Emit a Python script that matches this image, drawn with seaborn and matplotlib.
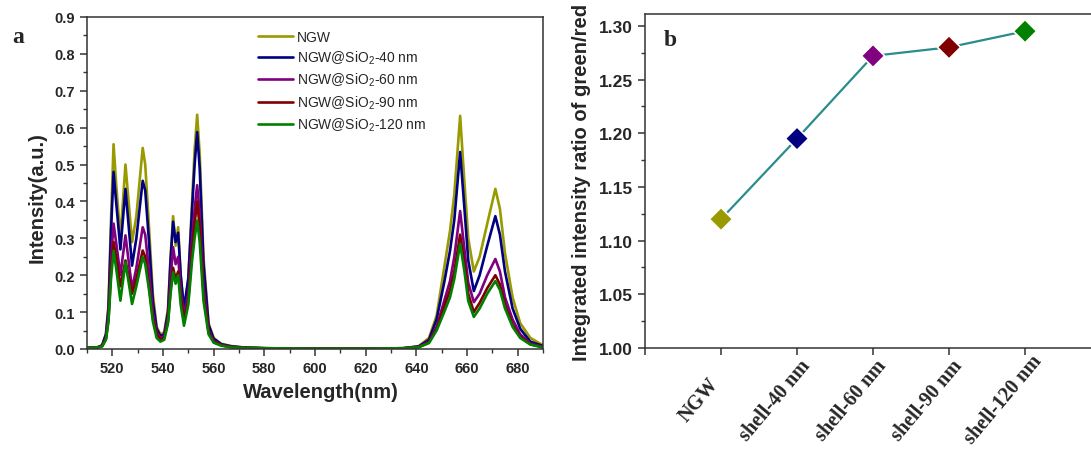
import numpy as np
import pandas as pd
import matplotlib
matplotlib.use("Agg")
import matplotlib.pyplot as plt
import seaborn as sns
from matplotlib.ticker import MultipleLocator, FormatStrFormatter

# ---------------- data ----------------
wavelength = [510, 514, 516, 517.5, 518.5, 519.5, 520.5, 521.5, 523.2, 525.2,
              527.8, 529.5, 532, 533, 534.5, 536, 537.5, 539, 540.5, 542,
              543, 544, 545, 546, 547, 548.3, 550, 551.5, 552.5, 553.5,
              554.5, 556, 558, 560, 563, 567, 572, 580, 600, 620,
              635, 641, 645, 648, 651, 653.3, 655, 657.3, 659, 660.5,
              662.7, 665, 668, 671.2, 673, 675, 678, 681, 685, 690]

ngw = [0.003, 0.004, 0.010, 0.040, 0.120, 0.350, 0.555, 0.450, 0.300, 0.500,
       0.290, 0.360, 0.545, 0.500, 0.330, 0.150, 0.060, 0.040, 0.045, 0.110,
       0.250, 0.360, 0.280, 0.330, 0.200, 0.100, 0.190, 0.400, 0.540, 0.635,
       0.530, 0.250, 0.070, 0.030, 0.014, 0.008, 0.004, 0.002, 0.001, 0.001,
       0.002, 0.008, 0.030, 0.090, 0.220, 0.320, 0.420, 0.632, 0.450, 0.300,
       0.210, 0.250, 0.340, 0.434, 0.380, 0.260, 0.140, 0.070, 0.030, 0.010]

shell40 = [0.003, 0.004, 0.010, 0.040, 0.110, 0.320, 0.480, 0.400, 0.270, 0.434,
           0.226, 0.300, 0.456, 0.430, 0.290, 0.130, 0.055, 0.035, 0.040, 0.100,
           0.240, 0.345, 0.290, 0.315, 0.200, 0.110, 0.190, 0.380, 0.500, 0.588,
           0.490, 0.230, 0.065, 0.028, 0.013, 0.007, 0.004, 0.002, 0.001, 0.001,
           0.002, 0.007, 0.025, 0.080, 0.180, 0.266, 0.350, 0.534, 0.380, 0.240,
           0.157, 0.200, 0.280, 0.360, 0.310, 0.210, 0.110, 0.055, 0.020, 0.008]

shell60 = [0.003, 0.004, 0.008, 0.030, 0.090, 0.240, 0.340, 0.290, 0.200, 0.308,
           0.163, 0.220, 0.330, 0.310, 0.210, 0.100, 0.045, 0.030, 0.035, 0.085,
           0.190, 0.276, 0.230, 0.250, 0.160, 0.090, 0.150, 0.300, 0.380, 0.444,
           0.370, 0.170, 0.050, 0.022, 0.011, 0.006, 0.003, 0.002, 0.001, 0.001,
           0.002, 0.006, 0.020, 0.060, 0.130, 0.184, 0.250, 0.374, 0.270, 0.180,
           0.127, 0.150, 0.200, 0.244, 0.210, 0.140, 0.080, 0.040, 0.015, 0.006]

shell90 = [0.003, 0.004, 0.008, 0.028, 0.080, 0.210, 0.290, 0.250, 0.170, 0.240,
           0.150, 0.190, 0.267, 0.250, 0.170, 0.085, 0.040, 0.026, 0.030, 0.075,
           0.160, 0.220, 0.190, 0.210, 0.140, 0.078, 0.130, 0.270, 0.340, 0.400,
           0.330, 0.150, 0.045, 0.020, 0.010, 0.005, 0.003, 0.002, 0.001, 0.001,
           0.002, 0.005, 0.018, 0.055, 0.115, 0.160, 0.210, 0.310, 0.230, 0.150,
           0.100, 0.125, 0.165, 0.200, 0.175, 0.120, 0.065, 0.033, 0.013, 0.005]

shell120 = [0.003, 0.004, 0.007, 0.025, 0.075, 0.190, 0.266, 0.220, 0.131, 0.235,
            0.122, 0.170, 0.249, 0.230, 0.160, 0.075, 0.030, 0.020, 0.025, 0.070,
            0.150, 0.208, 0.177, 0.200, 0.120, 0.063, 0.120, 0.240, 0.300, 0.348,
            0.290, 0.130, 0.040, 0.017, 0.009, 0.004, 0.003, 0.002, 0.001, 0.001,
            0.002, 0.005, 0.016, 0.050, 0.100, 0.140, 0.190, 0.285, 0.210, 0.130,
            0.087, 0.110, 0.150, 0.184, 0.160, 0.110, 0.060, 0.030, 0.012, 0.004]

series_labels = ["NGW", r"NGW@SiO$_2$-40 nm", r"NGW@SiO$_2$-60 nm",
                 r"NGW@SiO$_2$-90 nm", r"NGW@SiO$_2$-120 nm"]
series_colors = ["#999900", "#000080", "#800080", "#800000", "#008000"]

categories = ["NGW", "shell-40 nm", "shell-60 nm", "shell-90 nm", "shell-120 nm"]
ratio = [1.120, 1.195, 1.272, 1.280, 1.295]

# ---------------- style ----------------
sns.set_style("ticks")
plt.rcParams["font.family"] = ["Liberation Sans", "DejaVu Sans"]
plt.rcParams["mathtext.default"] = "regular"
plt.rcParams["axes.linewidth"] = 1.1
plt.rcParams["axes.edgecolor"] = "#333333"

fig = plt.figure(figsize=(10.91, 4.52), dpi=100)
ax1 = fig.add_axes([0.0797, 0.2257, 0.418, 0.7345])
ax2 = fig.add_axes([0.5912, 0.2279, 0.418, 0.7389])

# ---------------- panel a ----------------
frames = []
for lab, vals in zip(series_labels, [ngw, shell40, shell60, shell90, shell120]):
    frames.append(pd.DataFrame({"wl": wavelength, "I": vals, "s": lab}))
spec = pd.concat(frames, ignore_index=True)
sns.lineplot(data=spec, x="wl", y="I", hue="s", hue_order=series_labels,
             palette=dict(zip(series_labels, series_colors)), lw=1.9,
             ax=ax1, legend=True, sort=False)
handles, labels = ax1.get_legend_handles_labels()
ax1.legend(handles, labels, loc="upper left", bbox_to_anchor=(0.375, 0.962),
           frameon=False, fontsize=10, handlelength=2.5, handletextpad=0.3,
           labelspacing=0.36, borderpad=0, borderaxespad=0)

ax1.set_xlim(510, 690)
ax1.set_ylim(0, 0.9)
ax1.xaxis.set_major_locator(MultipleLocator(20))
ax1.xaxis.set_minor_locator(MultipleLocator(10))
ax1.yaxis.set_major_locator(MultipleLocator(0.1))
ax1.yaxis.set_minor_locator(MultipleLocator(0.05))
ax1.tick_params(which="both", direction="out", top=False, right=False,
                color="#333333")
ax1.tick_params(which="major", length=5, width=1.1, labelsize=10.5)
ax1.tick_params(which="minor", length=3, width=1.0)
for t in ax1.get_xticklabels() + ax1.get_yticklabels():
    t.set_fontweight("bold")
ax1.set_xlabel("Wavelength(nm)", fontsize=14.5, fontweight="bold")
ax1.set_ylabel("Intensity(a.u.)", fontsize=14.5, fontweight="bold")
ax1.xaxis.set_label_coords(0.513, -0.1)
ax1.yaxis.set_label_coords(-0.088, 0.46)
for sp in ax1.spines.values():
    sp.set_visible(True)
fig.text(0.011, 0.905, "a", fontsize=17, fontweight="bold",
         family="Liberation Serif")

# ---------------- panel b ----------------
pos = list(range(len(categories)))
dfb = pd.DataFrame({"x": pos, "ratio": ratio, "cat": categories})
sns.lineplot(data=dfb, x="x", y="ratio", color="#2a8c8c", lw=1.6, ax=ax2,
             zorder=2)
sns.scatterplot(data=dfb, x="x", y="ratio", hue="cat", hue_order=categories,
                palette=dict(zip(categories, series_colors)), marker="D",
                s=140, edgecolor="white", linewidth=1.2, ax=ax2, legend=False,
                zorder=3)
ax2.set_xlim(-1, 5)
ax2.set_ylim(1.0, 1.311)
ax2.set_xticks([-1] + pos)
ax2.set_xticklabels([])
ax2.yaxis.set_major_locator(MultipleLocator(0.05))
ax2.yaxis.set_minor_locator(MultipleLocator(0.025))
ax2.yaxis.set_major_formatter(FormatStrFormatter("%.2f"))
ax2.tick_params(which="both", direction="out", top=False, right=False,
                color="#333333")
ax2.tick_params(which="major", length=5, width=1.1, labelsize=12.5)
ax2.tick_params(which="minor", length=3, width=1.0)
for t in ax2.get_yticklabels():
    t.set_fontweight("bold")
ax2.set_xlabel("")
ax2.set_ylabel("Integrated intensity ratio of green/red", fontsize=14.5,
               fontweight="bold", labelpad=6)
for sp in ax2.spines.values():
    sp.set_visible(True)
for i, c in enumerate(categories):
    ax2.annotate(c, xy=(i, 0), xycoords=ax2.get_xaxis_transform(),
                 xytext=(-16, -37), textcoords="offset points",
                 rotation=50, rotation_mode="anchor", ha="center",
                 va="center", fontsize=14.5, fontweight="bold",
                 family="Liberation Serif", annotation_clip=False)
ax2.text(0.04, 0.955, "b", transform=ax2.transAxes, fontsize=17,
         fontweight="bold", family="Liberation Serif", va="top")

fig.savefig("out.png", dpi=100)
